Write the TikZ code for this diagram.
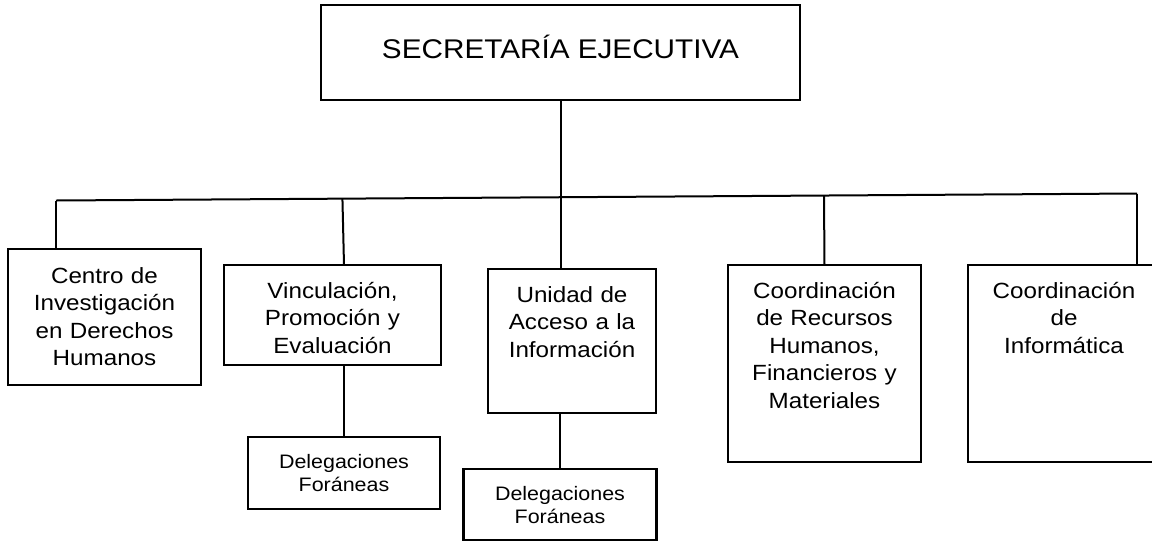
\documentclass[tikz,border=0pt]{standalone}
\usepackage{fontspec}
\setmainfont{Liberation Sans}[FakeStretch=1.1]
\usetikzlibrary{calc}

\tikzset{
  caja/.style={draw, line width=2.1pt, inner sep=0pt, outer sep=0pt},
  texto/.style={anchor=base, inner sep=0pt, align=center, text width=185pt,
    font=\fontsize{22}{27.5}\selectfont},
  textochico/.style={texto, font=\fontsize{19.5}{23}\selectfont},
  linea/.style={line width=2pt},
}

\begin{document}
\begin{tikzpicture}[x=1pt,y=-1pt]
\useasboundingbox (0,0) rectangle (1152,542);
% cajas
\node[caja, minimum width=479, minimum height=95] (se) at (560.5,52.5) {};
\node[caja, minimum width=193, minimum height=136] (cie) at (104.5,317) {};
\node[caja, minimum width=217, minimum height=100] (vpe) at (332.5,315) {};
\node[caja, minimum width=192, minimum height=72] (df1) at (344,473) {};
\node[caja, minimum width=168, minimum height=144] (uai) at (572,341) {};
\node[caja, minimum width=193, minimum height=71] (df2) at (560,504.5) {};
\node[caja, minimum width=193, minimum height=197] (crh) at (824.5,363.5) {};
\node[caja, minimum width=192, minimum height=197] (ci) at (1064,363.5) {};

% textos
\node[anchor=base, inner sep=0pt, font=\fontsize{27}{30}\selectfont] (tse) at ([yshift=-53pt]se.north) {SECRETARÍA EJECUTIVA};
\node[texto] (tcie) at ([yshift=-34pt]cie.north) {Centro de\\Investigación\\en Derechos\\Humanos};
\node[texto] (tvpe) at ([yshift=-33pt]vpe.north) {Vinculación,\\Promoción y\\Evaluación};
\node[textochico] (tdf1) at ([yshift=-31pt]df1.north) {Delegaciones\\Foráneas};
\node[texto] (tuai) at ([yshift=-33pt]uai.north) {Unidad de\\Acceso a la\\Información};
\node[textochico] (tdf2) at ([yshift=-31pt]df2.north) {Delegaciones\\Foráneas};
\node[texto] (tcrh) at ([yshift=-33pt]crh.north) {Coordinación\\de Recursos\\Humanos,\\Financieros y\\Materiales};
\node[texto] (tci) at ([yshift=-33pt]ci.north) {Coordinación\\de\\Informática};

% lineas
\coordinate (busL) at (56,200.5);
\coordinate (busR) at (1137,193.5);
\draw[linea] (busL) -- (busR);
\draw[linea] (se.south) -- (se.south |- uai.north);
\draw[linea] (busL) -- (busL |- cie.north);
\draw[linea] ($(busL)!(df1.north)!(busR)$) -- (df1.north |- vpe.north);
\draw[linea] (df1.north |- vpe.south) -- (df1.north);
\draw[linea] (df2.north |- uai.south) -- (df2.north);
\draw[linea] ($(busL)!(crh.north)!(busR)$) -- (crh.north);
\draw[linea] (busR) -- (busR |- ci.north);
\end{tikzpicture}
\end{document}
